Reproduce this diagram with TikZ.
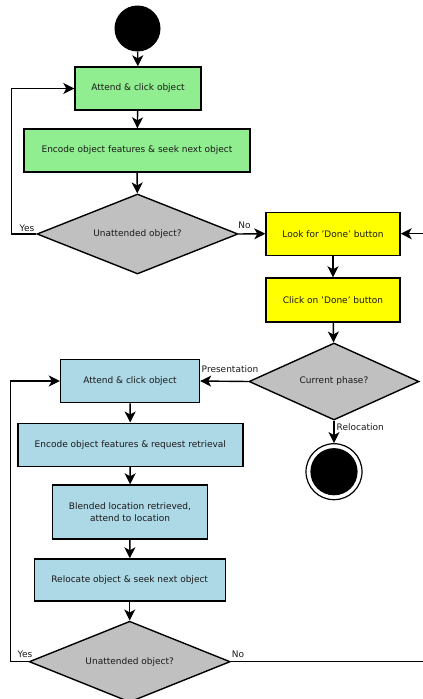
\documentclass[tikz,border=0pt]{standalone}
\usepackage{fontspec}
\setmainfont{DejaVu Sans}
\usetikzlibrary{shapes.geometric,arrows.meta}
\definecolor{boxgreen}{HTML}{90EE90}
\definecolor{boxyellow}{HTML}{FFFF00}
\definecolor{boxblue}{HTML}{ADD8E6}
\definecolor{decgray}{HTML}{C0C0C0}
\definecolor{txt}{HTML}{1A1A1A}
\begin{document}
\begin{tikzpicture}[x=1pt,y=-1pt,
  every node/.style={font=\fontsize{9}{11.3}\selectfont, text=txt},
  boxnode/.style={rectangle, draw=black, line width=1.4pt, inner sep=0pt, align=center},
  decnode/.style={diamond, draw=black, line width=1.4pt, fill=decgray, inner sep=0pt, aspect=2.5},
  lbl/.style={inner sep=0pt},
  conn/.style={line width=1.4pt, -{Stealth[length=11pt,width=11pt,inset=3pt]}},
  plain/.style={line width=1.4pt}]
\useasboundingbox (0,0) rectangle (423,699);
% start
\node (start) [circle, fill=black, minimum size=46pt, inner sep=0pt] at (137.5,28.5) {};
% green part
\node (a1) [boxnode, fill=boxgreen, minimum width=126pt, minimum height=43pt] at (138,88.5) {Attend \& click object};
\node (a2) [boxnode, fill=boxgreen, minimum width=226pt, minimum height=43pt] at (137,150.5) {Encode object features \& seek next object};
\node (d1) [decnode, minimum width=201pt, minimum height=80pt] at (137.5,234) {Unattended object?};
% yellow part
\node (y1) [boxnode, fill=boxyellow, minimum width=134pt, minimum height=43pt] at (333,233.7) {Look for 'Done' button};
\node (y2) [boxnode, fill=boxyellow, minimum width=134pt, minimum height=44pt] at (333,300) {Click on 'Done' button};
\node (d2) [decnode, minimum width=170pt, minimum height=77pt] at (334,381.5) {Current phase?};
% end
\node (end) [circle, draw=black, line width=1.2pt, minimum size=56pt, inner sep=0pt] at (334,471.7) {};
\fill[black] (end.center) circle (23.6);
% blue part
\node (b1) [boxnode, fill=boxblue, minimum width=139pt, minimum height=43.5pt] at (130,381) {Attend \& click object};
\node (b2) [boxnode, fill=boxblue, minimum width=225pt, minimum height=43pt] at (130.3,444.7) {Encode object features \& request retrieval};
\node (b3) [boxnode, fill=boxblue, minimum width=155.5pt, minimum height=54pt] at (130,512) {Blended location retrieved,\\attend to location};
\node (b4) [boxnode, fill=boxblue, minimum width=191pt, minimum height=42pt] at (129.7,580) {Relocate object \& seek next object};
\node (d3) [decnode, minimum width=201pt, minimum height=81pt] at (129.7,661.7) {Unattended object?};
% free ends
\coordinate (rin) at (423,233.7);
\coordinate (rout) at (423,661.7);
\coordinate (l1a) at (11.5,234);
\coordinate (l1b) at (11.5,88.5);
\coordinate (l2a) at (10.5,661.7);
\coordinate (l2b) at (10.5,381);
% connectors
\draw[conn] (start) -- (a1);
\draw[conn] (a1) -- (a2);
\draw[conn] (a2) -- (d1);
\draw[conn] (d1.west) -- (l1a) -- (l1b) -- (a1.west);
\draw[conn] (d1.east) -- (y1.west);
\draw[conn] (rin) -- (y1.east);
\draw[conn] (y1) -- (y2);
\draw[conn] (y2) -- (d2);
\draw[conn] (d2.west) -- (b1.east);
\draw[conn] (d2.south) -- (end.north);
\draw[conn] (b1) -- (b2);
\draw[conn] (b2) -- (b3);
\draw[conn] (b3) -- (b4);
\draw[conn] (b4) -- (d3);
\draw[conn] (d3.west) -- (l2a) -- (l2b) -- (b1.west);
\draw[plain] (d3.east) -- (rout);
% labels
\node (yes1) [lbl] at (27,228) {Yes};
\node (no1) [lbl] at (244.5,225) {No};
\node (pres) [lbl] at (230,369) {Presentation};
\node (reloc) [lbl, anchor=west] at (336.5,427) {Relocation};
\node (yes2) [lbl] at (25,654) {Yes};
\node (no2) [lbl] at (238,654) {No};
\end{tikzpicture}
\end{document}
